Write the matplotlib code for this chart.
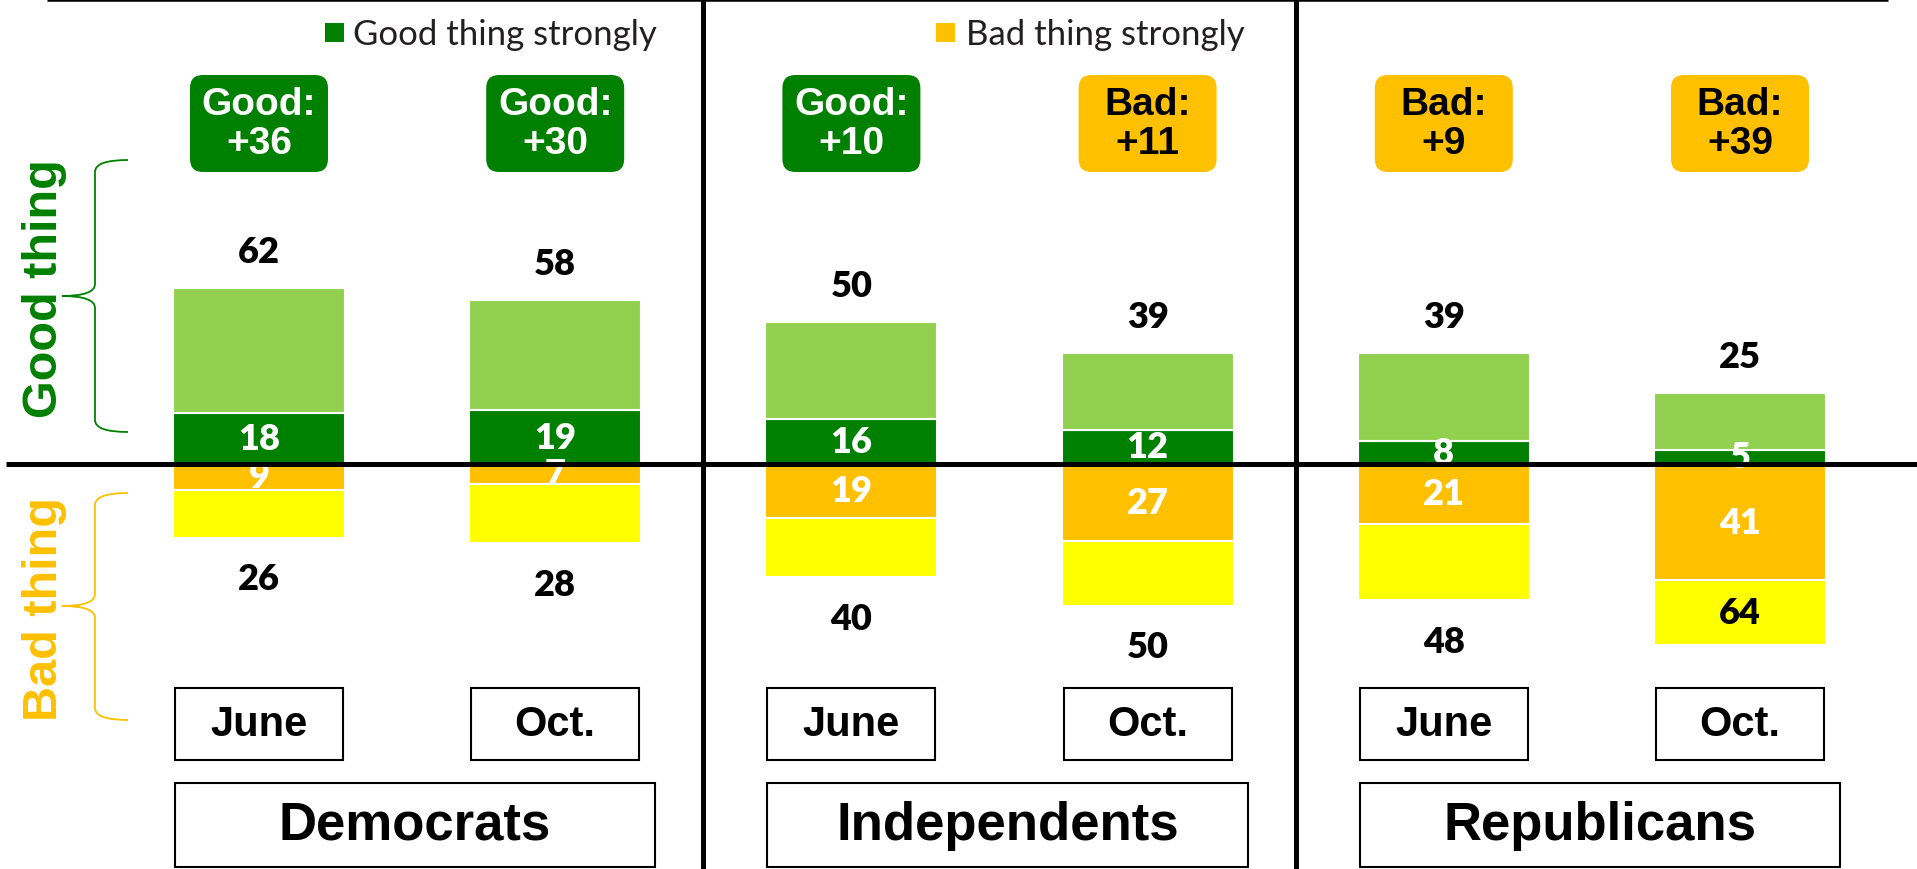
import matplotlib
matplotlib.use('Agg')
import matplotlib.pyplot as plt
from matplotlib.patches import FancyBboxPatch, Rectangle, PathPatch
from matplotlib.path import Path
import numpy as np

# data
groups = ['Democrats', 'Independents', 'Republicans']
waves = ['June', 'Oct.']
good_total = [62, 58, 50, 39, 39, 25]
good_strong = [18, 19, 16, 12, 8, 5]
bad_total = [26, 28, 40, 50, 48, 64]
bad_strong = [9, 7, 19, 27, 21, 41]

DKGREEN = '#008000'
LTGREEN = '#92D050'
ORANGE = '#FFC000'
YELLOW = '#FFFF00'

ARIAL = ['Liberation Sans', 'DejaVu Sans']
CALIBRI = ['Lato', 'DejaVu Sans']

# pixel layout of the canvas
W, H = 1917, 870
X0, DX = 259.0, 296.2     # px of first bar centre, px between bars
Y0, DY = 465.0, 2.835     # px of zero line, px per percentage point


def px(x, y):
    return (x - X0) / DX, (Y0 - y) / DY


fig = plt.figure(figsize=(W / 100, H / 100), dpi=100)
ax = fig.add_axes([0, 0, 1, 1])
ax.set_xlim(-X0 / DX, (W - X0) / DX)
ax.set_ylim(-(H - Y0) / DY, Y0 / DY)
ax.axis('off')

x = np.arange(len(good_total))
gt = np.array(good_total)
gs = np.array(good_strong)
bt = np.array(bad_total)
bs = np.array(bad_strong)
bw = 172 / DX

ax.bar(x, gs, width=bw, color=DKGREEN, edgecolor='white', linewidth=1.5, zorder=2)
ax.bar(x, gt - gs, bottom=gs, width=bw, color=LTGREEN, edgecolor='white', linewidth=1.5, zorder=2)
ax.bar(x, -bs, width=bw, color=ORANGE, edgecolor='white', linewidth=1.5, zorder=2)
ax.bar(x, -(bt - bs), bottom=-bs, width=bw, color=YELLOW, edgecolor='white', linewidth=1.5, zorder=2)

above = 36.5 / DY
below = 41 / DY
num_kw = dict(ha='center', va='center', fontsize=26, fontweight='heavy', family=CALIBRI, zorder=3)
for i in x:
    ax.text(i, gs[i] / 2, str(gs[i]), color='white', **num_kw)
    ax.text(i, -bs[i] / 2, str(bs[i]), color='white', **num_kw)
    ax.text(i, gt[i] + above, str(gt[i]), color='black', **num_kw)
    if bt[i] > 60:
        ybad = -(bs[i] + bt[i]) / 2
    else:
        ybad = -bt[i] - below
    ax.text(i, ybad, str(bt[i]), color='black', **num_kw)

    # net score box
    net = gt[i] - bt[i]
    if net >= 0:
        label, fc, tc = 'Good:\n+%d' % net, DKGREEN, 'white'
    else:
        label, fc, tc = 'Bad:\n+%d' % -net, ORANGE, 'black'
    bx0, by0 = px(0, 173)
    bx1, by1 = px(138, 76)
    bwid = bx1 - bx0
    box = FancyBboxPatch((i - bwid / 2, by0), bwid, by1 - by0,
                         boxstyle='round,pad=0,rounding_size=%f' % (13 / DX),
                         mutation_aspect=DX / DY, fc=fc, ec='none', zorder=3)
    ax.add_patch(box)
    ax.text(i, (by0 + by1) / 2, label, ha='center', va='center', color=tc,
            fontsize=28, fontweight='bold', family=ARIAL, linespacing=1.1, zorder=4)

    # wave box
    wy0 = px(0, 761)[1]
    wy1 = px(0, 689)[1]
    ww = 168 / DX
    ax.add_patch(Rectangle((i - ww / 2, wy0), ww, wy1 - wy0, fill=False,
                           ec='black', lw=1.5, zorder=3))
    ax.text(i, (wy0 + wy1) / 2, waves[i % 2], ha='center', va='center', color='black',
            fontsize=30, fontweight='bold', family=ARIAL, zorder=4)

# party boxes
gy0 = px(0, 868)[1]
gy1 = px(0, 784)[1]
for g, name in enumerate(groups):
    left = 2 * g - 84 / DX
    right = 2 * g + 1 + 100 / DX
    ax.add_patch(Rectangle((left, gy0), right - left, gy1 - gy0, fill=False,
                           ec='black', lw=1.5, zorder=3))
    ax.text((left + right) / 2, (gy0 + gy1) / 2, name, ha='center', va='center',
            color='black', fontsize=38, fontweight='bold', family=ARIAL, zorder=4)

# zero line, dividers, top rule
ax.plot([px(6, 0)[0], px(W, 0)[0]], [0, 0], color='black', lw=3.6,
        solid_capstyle='butt', zorder=5)
for xv in [1.5, 3.5]:
    ax.plot([xv, xv], [px(0, 0)[1], px(0, H)[1]], color='black', lw=3.6,
            solid_capstyle='butt', zorder=5)
ax.plot([px(47, 0)[0], px(1888, 0)[0]], [px(0, 1.2)[1]] * 2, color='black', lw=1.8,
        solid_capstyle='butt', zorder=5)


# curly braces on the left
def brace(top, mid, bottom, color):
    xv, xt, xp, r = 95, 128, 62, 12
    pts = [(xt, top), (xv, top), (xv, top + r), (xv, mid - r), (xv, mid), (xp, mid),
           (xv, mid), (xv, mid + r), (xv, bottom - r), (xv, bottom), (xt, bottom)]
    codes = [Path.MOVETO, Path.CURVE3, Path.CURVE3, Path.LINETO, Path.CURVE3, Path.CURVE3,
             Path.CURVE3, Path.CURVE3, Path.LINETO, Path.CURVE3, Path.CURVE3]
    verts = [px(a, b) for a, b in pts]
    ax.add_patch(PathPatch(Path(verts, codes), fill=False, ec=color, lw=1.3, zorder=3))


brace(161, 297, 433, DKGREEN)
brace(494, 607, 721, ORANGE)
ax.text(*px(44, 289), 'Good thing', rotation=90, ha='center', va='center', color=DKGREEN,
        fontsize=35, fontweight='bold', family=ARIAL)
ax.text(*px(44, 609), 'Bad thing', rotation=90, ha='center', va='center', color=ORANGE,
        fontsize=35, fontweight='bold', family=ARIAL)

# legend entries
for (mx, tx, lab, col) in [(325, 353, 'Good thing strongly', DKGREEN),
                           (936, 966, 'Bad thing strongly', ORANGE)]:
    lx0, ly0 = px(mx, 43)
    lx1, ly1 = px(mx + 19, 24)
    ax.add_patch(Rectangle((lx0, ly0), lx1 - lx0, ly1 - ly0, fc=col, ec='none'))
    ax.text(*px(tx, 45), lab, ha='left', va='baseline', color='#231F20',
            fontsize=25, family=CALIBRI)

fig.savefig('out.png', dpi=100)
